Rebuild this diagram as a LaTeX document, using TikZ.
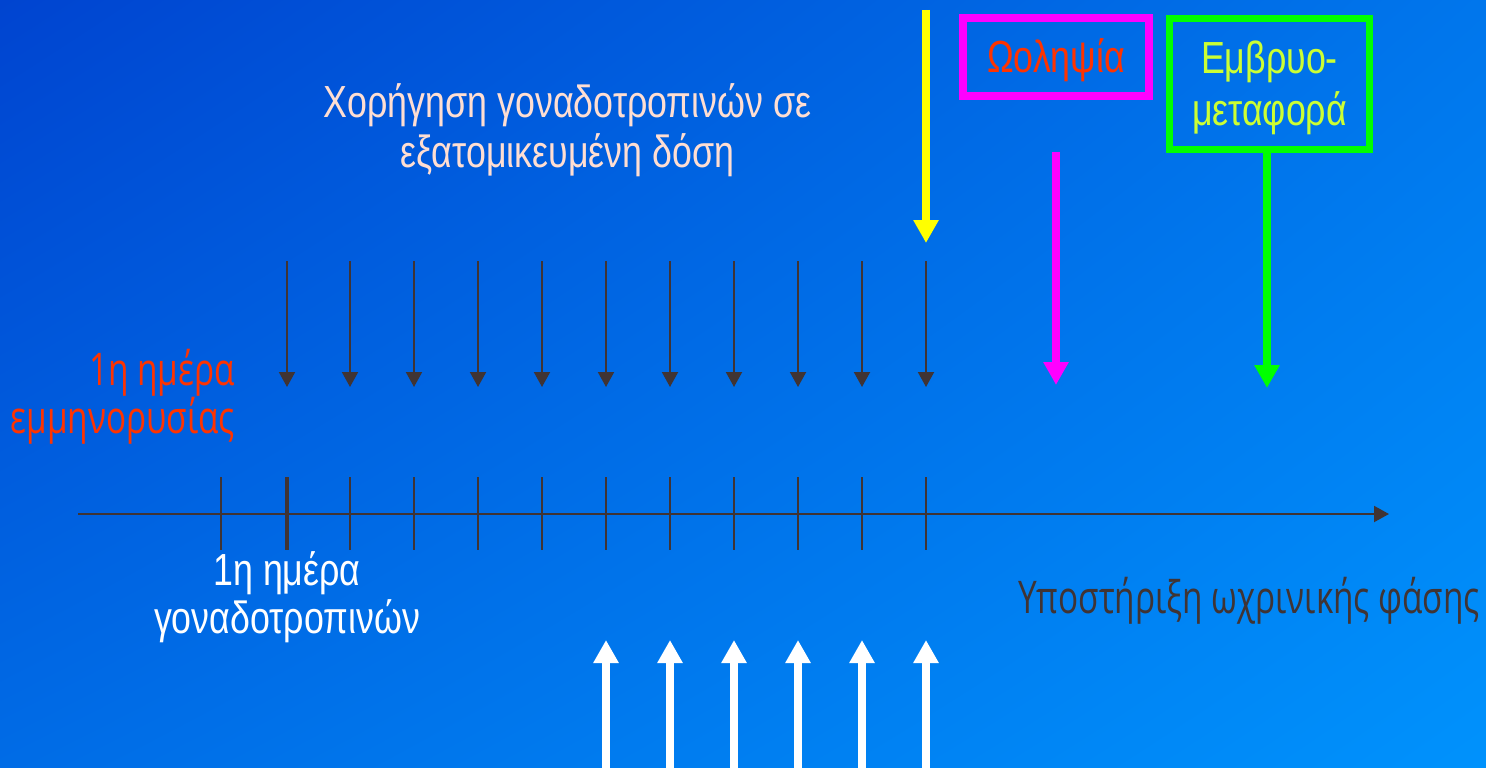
\documentclass[tikz,border=0pt]{standalone}
\usepackage{fontspec}
\setmainfont{Liberation Sans}
\newfontfamily\slidefont[FakeStretch=0.795]{Liberation Sans}
\newfontfamily\humfont[FakeStretch=0.74]{Open Sans}
\usetikzlibrary{arrows.meta,shadings}

\definecolor{bgUL}{RGB}{0,68,208}
\definecolor{bgUR}{RGB}{0,118,236}
\definecolor{bgLL}{RGB}{0,108,230}
\definecolor{bgLR}{RGB}{0,146,252}
\definecolor{darkline}{RGB}{64,52,52}
\definecolor{peach}{RGB}{255,222,210}
\definecolor{redorange}{RGB}{255,51,0}
\definecolor{limeyellow}{RGB}{204,255,51}
\definecolor{brightgreen}{RGB}{0,255,0}
\definecolor{brightmagenta}{RGB}{255,0,255}
\definecolor{brightyellow}{RGB}{255,255,0}

\begin{document}
\begin{tikzpicture}[x=1pt,y=-1pt,
  thinarrow/.style={draw=darkline, line width=2pt, -{Triangle[width=16pt,length=15pt]}},
  daytick/.style={draw=darkline, line width=2pt},
  fatarrow/.style={line width=8pt, -{Triangle[width=24pt,length=23pt]}},
  slidetxt/.style={inner sep=0pt, font=\slidefont\fontsize{45}{50}\selectfont},
  humtxt/.style={inner sep=0pt, font=\humfont\fontsize{45}{48}\selectfont},
]
% background
\useasboundingbox (0,0) rectangle (1486,768);
\shade[upper left=bgUL, upper right=bgUR, lower left=bgLL, lower right=bgLR]
  (0,0) rectangle (1486,768);

% time axis
\coordinate (axisL) at (78,514);
\coordinate (axisR) at (1389,514);
\draw[thinarrow] (axisL) -- (axisR);

% day ticks and daily injection arrows
\foreach \i/\x in {0/221,1/287,2/350,3/414,4/478,5/542,6/606,7/670,8/734,9/798,10/862,11/926}{
  \coordinate (tt\i) at (\x,477);
  \coordinate (tb\i) at (\x,550);
  \draw[daytick] (tt\i) -- (tb\i);
}
\draw[draw=darkline, line width=3.5pt] (tt1) -- (tb1);
\foreach \i/\x in {1/287,2/350,3/414,4/478,5/542,6/606,7/670,8/734,9/798,10/862,11/926}{
  \coordinate (ds\i) at (\x,261);
  \coordinate (de\i) at (\x,387);
  \draw[thinarrow] (ds\i) -- (de\i);
}

% ultrasound monitoring arrows
\foreach \i/\x in {1/606,2/670,3/734,4/798,5/862,6/926}{
  \coordinate (us\i) at (\x,768);
  \coordinate (ue\i) at (\x,640);
  \draw[fatarrow, draw=white, fill=white] (us\i) -- (ue\i);
}

% hCG trigger
\coordinate (hcgS) at (926,10);
\coordinate (hcgE) at (926,243);
\draw[fatarrow, draw=brightyellow, fill=brightyellow] (hcgS) -- (hcgE);

% oocyte retrieval
\node[draw=brightmagenta, line width=8pt, minimum width=186pt, minimum height=78pt, inner sep=0pt,
      slidetxt, text height=32pt, text depth=0pt, text=redorange] (opu) at (1056,57) {Ωοληψία};
\coordinate (opuS) at (1056,152);
\coordinate (opuE) at (1056,385);
\draw[fatarrow, draw=brightmagenta, fill=brightmagenta] (opuS) -- (opuE);

% embryo transfer
\node[draw=brightgreen, line width=7pt, minimum width=200pt, minimum height=131pt, inner sep=0pt,
      font=\slidefont\fontsize{45}{52}\selectfont, align=center, text height=82pt, text depth=0pt,
      text=limeyellow] (et) at (1269.5,84) {Εμβρυο-\\μεταφορά};
\coordinate (etE) at (1267,388);
\draw[fatarrow, draw=brightgreen, fill=brightgreen] (et.south -| etE) -- (etE);

% texts
\node[slidetxt, align=center, text=peach, anchor=base] (gonad) at (567.5,167)
  {Χορήγηση γοναδοτροπινών σε\\εξατομικευμένη δόση};
\node[humtxt, align=right, text=redorange, anchor=base east] (mens) at (235,433)
  {1η ημέρα\\εμμηνορυσίας};
\node[slidetxt, font=\slidefont\fontsize{45}{48}\selectfont, align=center, text=white, anchor=base] (day1) at (287,633)
  {1η ημέρα\\γοναδοτροπινών};
\node[humtxt, text=darkline, anchor=base west] (luteal) at (1018,613)
  {Υποστήριξη ωχρινικής φάσης};
\end{tikzpicture}
\end{document}
